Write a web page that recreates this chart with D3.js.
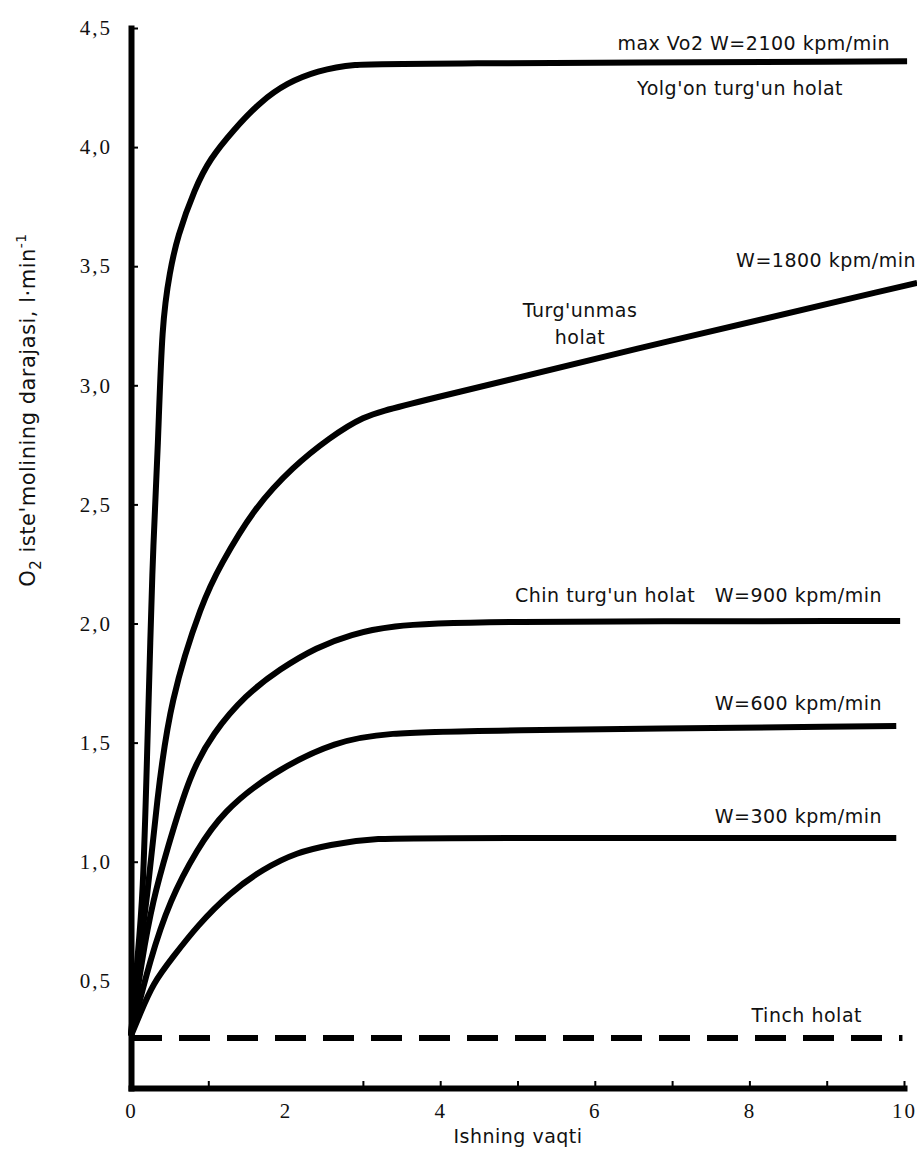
<!DOCTYPE html>
<html>
<head>
<meta charset="utf-8">
<script src="https://cdn.jsdelivr.net/npm/d3@7"></script>
<style>
  html, body { margin: 0; padding: 0; background: #fff; }
  svg { display: block; }
  .lbl { font-family: "DejaVu Sans", sans-serif; font-size: 19px; letter-spacing: 0.5px; fill: #111; }
  .tick text { font-family: "Liberation Serif", serif; font-size: 21px; letter-spacing: 2px; fill: #111; }
</style>
</head>
<body>
<svg id="chart" width="917" height="1153"></svg>
<script>
// ---- data ----
// x: ishning vaqti (min), y: O2 iste'mol (l/min)
const timeMarks = [1, 3, 4, 5, 6, 7, 8, 9, 10];
const timeLabels = [0, 2, 4, 6, 8, 10];
const o2Ticks = [0.5, 1.0, 1.5, 2.0, 2.5, 3.0, 3.5, 4.0, 4.5];

// W=2100 kpm/min (max VO2)
const t2100 = [0, 0.08, 0.155, 0.21, 0.25, 0.285, 0.35, 0.40, 0.505, 0.595, 0.83, 1.02, 1.32, 1.67, 2.02, 2.41, 2.87, 3.5, 10.04];
const v2100 = [0.27, 0.59, 0.84, 1.47, 1.93, 2.32, 2.74, 3.27, 3.48, 3.62, 3.83, 3.95, 4.07, 4.19, 4.27, 4.32, 4.35, 4.35, 4.36];
// W=1800 kpm/min
const t1800 = [0, 0.10, 0.207, 0.336, 0.505, 0.93, 1.15, 1.58, 2.10, 2.57, 3.0, 3.44, 7.0, 10.17];
const v1800 = [0.27, 0.59, 0.84, 1.26, 1.68, 2.10, 2.24, 2.48, 2.66, 2.78, 2.87, 2.91, 3.19, 3.43];
// W=900 kpm/min
const t900 = [0, 0.14, 0.285, 0.466, 0.763, 1.06, 1.48, 1.93, 2.40, 2.85, 3.35, 4.26, 9.95];
const v900 = [0.27, 0.59, 0.84, 1.05, 1.37, 1.54, 1.70, 1.81, 1.90, 1.955, 1.99, 2.01, 2.01];
// W=600 kpm/min
const t600 = [0, 0.246, 0.505, 0.85, 1.19, 1.80, 2.66, 3.35, 4.26, 9.9];
const v600 = [0.27, 0.59, 0.84, 1.05, 1.21, 1.37, 1.51, 1.54, 1.55, 1.57];
// W=300 kpm/min
const t300 = [0, 0.116, 0.285, 0.543, 0.854, 1.28, 1.71, 2.15, 2.57, 3.09, 4.26, 9.9];
const v300 = [0.27, 0.36, 0.49, 0.60, 0.73, 0.87, 0.97, 1.04, 1.07, 1.10, 1.10, 1.10];
// Tinch holat
const tRest = [0, 9.98];
const vRest = [0.26, 0.26];

const svg = d3.select('#chart');
svg.append('rect').attr('width', 917).attr('height', 1153).attr('fill', '#fff');

const x = d3.scaleLinear().domain([0, 10]).range([131, 904]);
const y = d3.scaleLinear().domain([0.05, 4.5]).range([1088, 28]);

function zip(ts, vs) { return ts.map(function (t, i) { return { t: t, v: vs[i] }; }); }

const series = [
    { pts: zip(t2100, v2100), dash: null },
    { pts: zip(t1800, v1800), dash: null },
    { pts: zip(t900, v900), dash: null },
    { pts: zip(t600, v600), dash: null },
    { pts: zip(t300, v300), dash: null },
    { pts: zip(tRest, vRest), dash: '31,17' }
];

// hand-drawn curves: smooth through the read points
const line = d3.line()
    .x(function (d) { return x(d.t); })
    .y(function (d) { return y(d.v); })
    .curve(d3.curveBasis);

svg.append('g').selectAll('path')
    .data(series)
    .join('path')
    .attr('d', function (d) { return line(d.pts); })
    .attr('fill', 'none')
    .attr('stroke', '#000')
    .attr('stroke-width', 6)
    .attr('stroke-linejoin', 'round')
    .attr('stroke-dasharray', function (d) { return d.dash; });

// ---- axes ----
const fmt = function (d) { return d3.format('.1f')(d).replace('.', ','); };

const yAxis = svg.append('g')
    .attr('transform', 'translate(' + x(0) + ',0)')
    .call(d3.axisLeft(y).tickValues(o2Ticks).tickFormat(fmt)
        .tickSizeInner(-7).tickSizeOuter(0).tickPadding(19));
yAxis.select('.domain').attr('stroke-width', 6).attr('stroke-linecap', 'square');
yAxis.selectAll('.tick line').attr('stroke-width', 2);

const xAxis = svg.append('g')
    .attr('transform', 'translate(0,' + y.range()[0] + ')')
    .call(d3.axisBottom(x).tickValues(timeMarks).tickFormat('')
        .tickSizeInner(-7).tickSizeOuter(0));
xAxis.select('.domain').attr('stroke-width', 6).attr('stroke-linecap', 'square');
xAxis.selectAll('.tick line').attr('stroke-width', 2);

const xLabels = svg.append('g')
    .attr('transform', 'translate(0,' + y.range()[0] + ')')
    .call(d3.axisBottom(x).tickValues(timeLabels).tickFormat(d3.format('d'))
        .tickSize(0).tickPadding(15));
xLabels.select('.domain').remove();

// ---- titles ----
svg.append('text').attr('class', 'lbl')
    .attr('x', 518).attr('y', 1143)
    .attr('text-anchor', 'middle')
    .text('Ishning vaqti');

const yTitle = svg.append('text').attr('class', 'lbl')
    .attr('transform', 'translate(35,410) rotate(-90)')
    .attr('text-anchor', 'middle')
    .style('font-size', '21px');
yTitle.append('tspan').text('O');
yTitle.append('tspan').attr('dy', 6).style('font-size', '15px').text('2');
yTitle.append('tspan').attr('dy', -6).text(" iste'molining darajasi, l\u00b7min");
yTitle.append('tspan').attr('dy', -9).style('font-size', '14px').text('-1');

// ---- curve labels ----
const labels = [
    { text: 'max Vo2 W=2100 kpm/min', x: 890, y: 50, anchor: 'end' },
    { text: "Yolg'on turg'un holat", x: 843, y: 95, anchor: 'end' },
    { text: 'W=1800 kpm/min', x: 916, y: 267, anchor: 'end' },
    { text: "Turg'unmas", x: 580, y: 317, anchor: 'middle' },
    { text: 'holat', x: 580, y: 344, anchor: 'middle' },
    { text: "Chin turg'un holat", x: 515, y: 602, anchor: 'start' },
    { text: 'W=900 kpm/min', x: 882, y: 602, anchor: 'end' },
    { text: 'W=600 kpm/min', x: 882, y: 710, anchor: 'end' },
    { text: 'W=300 kpm/min', x: 882, y: 823, anchor: 'end' },
    { text: 'Tinch holat', x: 862, y: 1022, anchor: 'end' }
];

svg.append('g').selectAll('text')
    .data(labels)
    .join('text')
    .attr('class', 'lbl')
    .attr('x', function (d) { return d.x; })
    .attr('y', function (d) { return d.y; })
    .attr('text-anchor', function (d) { return d.anchor; })
    .text(function (d) { return d.text; });
</script>
</body>
</html>
